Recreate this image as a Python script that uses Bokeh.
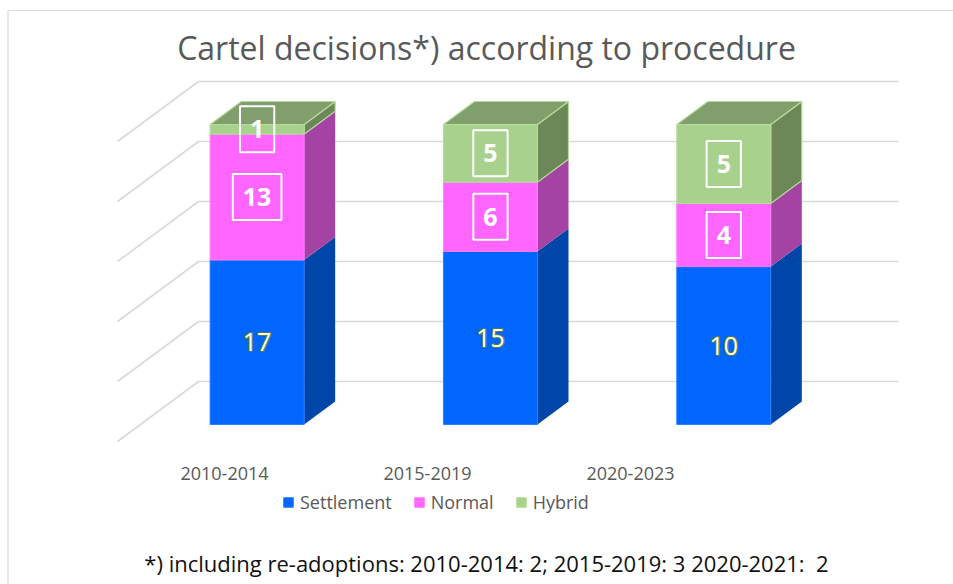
import numpy as np
from bokeh.plotting import figure
from bokeh.models import ColumnDataSource, Legend, LegendItem, Label, Range1d
from bokeh.core.properties import value
from bokeh.embed import file_html
from bokeh.resources import INLINE

# ---------------- data ----------------
categories = ["2010-2014", "2015-2019", "2020-2023"]
settlement = [17, 15, 10]
normal = [13, 6, 4]
hybrid = [1, 5, 5]
series_names = ["Settlement", "Normal", "Hybrid"]
grid_pct = [0, 20, 40, 60, 80, 100]
title_text = "Cartel decisions*) according to procedure"
footnote_text = "*) including re-adoptions: 2010-2014: 2; 2015-2019: 3 2020-2021:\u00a0 2"

# ---------------- styles / layout ----------------
FONT = "Open Sans"
W, H = 953, 584
FLOOR_X0 = 117.0      # px of category axis start (front plane)
FLOOR_Y0 = 441.0      # px of 0 % (front plane)
PX_CAT = 700.0 / 3.0  # px per category
PX_PCT = 3.0          # px per percent

def dx(px):
    return (px - FLOOR_X0) / PX_CAT

def dy(py):
    return (FLOOR_Y0 - py) / PX_PCT

DEPTH_X = 81.0 / PX_CAT   # full floor depth in category units
DEPTH_Y = 60.0 / PX_PCT   # full floor depth in percent units
Z0, Z1 = 17.0 / 60.0, 40.0 / 60.0   # bar front / back depth fraction
HALF_W = 47.0 / PX_CAT

front_col = {"Settlement": "#0066FF", "Normal": "#FF66FF", "Hybrid": "#A9D18E"}
side_col = {"Settlement": "#0045A8", "Normal": "#A443A4", "Hybrid": "#6C8859"}
top_col = {"Settlement": "#0050C8", "Normal": "#C04FC0", "Hybrid": "#809F6C"}
edge_col = {"Settlement": "#2F7DFF", "Normal": "#FF7DFF", "Hybrid": "#B6DB9C"}
GRID_COL = "#D9D9D9"
TEXT_GREY = "#595959"

p = figure(width=W, height=H,
           x_range=Range1d(dx(0), dx(W)), y_range=Range1d(dy(H), dy(0)),
           output_backend="svg", toolbar_location=None, min_border=0,
           x_axis_location=None, y_axis_location=None)
p.xgrid.visible = False
p.ygrid.visible = False
p.outline_line_color = None
p.background_fill_color = "white"
p.border_fill_color = "white"

# chart frame (left and top edge)
p.segment(x0=[dx(7.5), dx(7.5)], y0=[dy(H), dy(10)], x1=[dx(7.5), dx(W)], y1=[dy(10), dy(10)],
          line_color=GRID_COL, line_width=1.2)

# ---------------- gridlines (back wall + side wall) ----------------
n = len(categories)
gx, gy = [], []
for g in grid_pct:
    gx.append([DEPTH_X, n + DEPTH_X]); gy.append([g + DEPTH_Y, g + DEPTH_Y])
    gx.append([0, DEPTH_X]); gy.append([g, g + DEPTH_Y])
p.multi_line(gx, gy, line_color=GRID_COL, line_width=1.6)

# ---------------- bars ----------------
series_vals = {"Settlement": settlement, "Normal": normal, "Hybrid": hybrid}
totals = [sum(series_vals[s][i] for s in series_names) for i in range(n)]
fx, fy = Z0 * DEPTH_X, Z0 * DEPTH_Y
ox, oy = (Z1 - Z0) * DEPTH_X, (Z1 - Z0) * DEPTH_Y

bottoms = [0.0] * n
seg = {}
for s in series_names:
    pct = [series_vals[s][i] / totals[i] * 100.0 for i in range(n)]
    b = list(bottoms)
    t = [b[i] + pct[i] for i in range(n)]
    seg[s] = (b, t)
    bottoms = t

# side faces
for s in series_names:
    b, t = seg[s]
    xs, ys = [], []
    for i in range(n):
        xr = i + 0.5 + HALF_W + fx
        xs.append([xr, xr + ox, xr + ox, xr])
        ys.append([b[i] + fy, b[i] + fy + oy, t[i] + fy + oy, t[i] + fy])
    p.patches(xs, ys, fill_color=side_col[s], line_color=edge_col[s] if s == "Hybrid" else None,
              line_width=1.2)

# top faces (top-most series)
top_s = series_names[-1]
b, t = seg[top_s]
xs, ys = [], []
for i in range(n):
    xl = i + 0.5 - HALF_W + fx
    xr = i + 0.5 + HALF_W + fx
    xs.append([xl, xr, xr + ox, xl + ox])
    ys.append([t[i] + fy, t[i] + fy, t[i] + fy + oy, t[i] + fy + oy])
p.patches(xs, ys, fill_color=top_col[top_s], line_color=edge_col[top_s], line_width=1.2)

# front faces
front_renderers = {}
for s in series_names:
    b, t = seg[s]
    src = ColumnDataSource(dict(
        left=[i + 0.5 - HALF_W + fx for i in range(n)],
        right=[i + 0.5 + HALF_W + fx for i in range(n)],
        bottom=[v + fy for v in b], top=[v + fy for v in t]))
    r = p.quad(left="left", right="right", bottom="bottom", top="top", source=src,
               fill_color=front_col[s], line_color=edge_col[s], line_width=1.0)
    front_renderers[s] = r

# ---------------- data labels ----------------
def seg_centre(s):
    b, t = seg[s]
    return ([i + 0.5 + fx for i in range(n)], [(b[i] + t[i]) / 2 + fy for i in range(n)])

# settlement: white text with green outline
sx, sy = seg_centre("Settlement")
stxt = [str(v) for v in settlement]
for ddx, ddy in [(-1, 0), (1, 0), (0, -1), (0, 1), (-1, -1), (1, 1), (-1, 1), (1, -1)]:
    p.text(x=sx, y=sy, text=stxt, x_offset=ddx, y_offset=ddy, text_align="center",
           text_baseline="middle", text_font=value(FONT), text_font_size="25px",
           text_color="#55803A", text_alpha=0.8)
p.text(x=sx, y=sy, text=stxt, text_align="center", text_baseline="middle",
       text_font=value(FONT), text_font_size="25px", text_color="white")

for s in ["Normal", "Hybrid"]:
    cx, cy = seg_centre(s)
    p.text(x=cx, y=cy, text=[str(v) for v in series_vals[s]], text_align="center",
           text_baseline="middle", text_font=value(FONT), text_font_size="25px",
           text_font_style="bold", text_color="white",
           border_line_color="white", border_line_width=2,
           padding=dict(left=10, right=10, top=14, bottom=14))

# ---------------- category labels ----------------
CAT_X0, CAT_STEP, CAT_Y = 224.0, 203.0, 473.0
p.text(x=[dx(CAT_X0 + i * CAT_STEP) for i in range(n)], y=[dy(CAT_Y)] * n, text=categories,
       text_align="center", text_baseline="middle", text_font=value(FONT),
       text_font_size="18px", text_color=TEXT_GREY)

# ---------------- title & footnote ----------------
p.add_layout(Label(x=dx(486), y=dy(47), text=title_text, text_align="center",
                   text_baseline="middle", text_font=FONT, text_font_size="32px",
                   text_color=TEXT_GREY))
p.add_layout(Label(x=dx(486), y=dy(562), text=footnote_text, text_align="center",
                   text_baseline="middle", text_font=FONT, text_font_size="22px",
                   text_color="#111111"))

# ---------------- legend ----------------
legend = Legend(items=[LegendItem(label=s, renderers=[front_renderers[s]]) for s in series_names],
                orientation="horizontal", location=(282, H - 514),
                glyph_width=12, glyph_height=12, label_standoff=6, spacing=21,
                padding=0, margin=0, border_line_color=None, background_fill_alpha=0,
                label_text_font=FONT, label_text_font_size="18px", label_text_color=TEXT_GREY,
                label_height=20)
p.add_layout(legend)

open("out.html", "w").write(file_html(p, INLINE))
